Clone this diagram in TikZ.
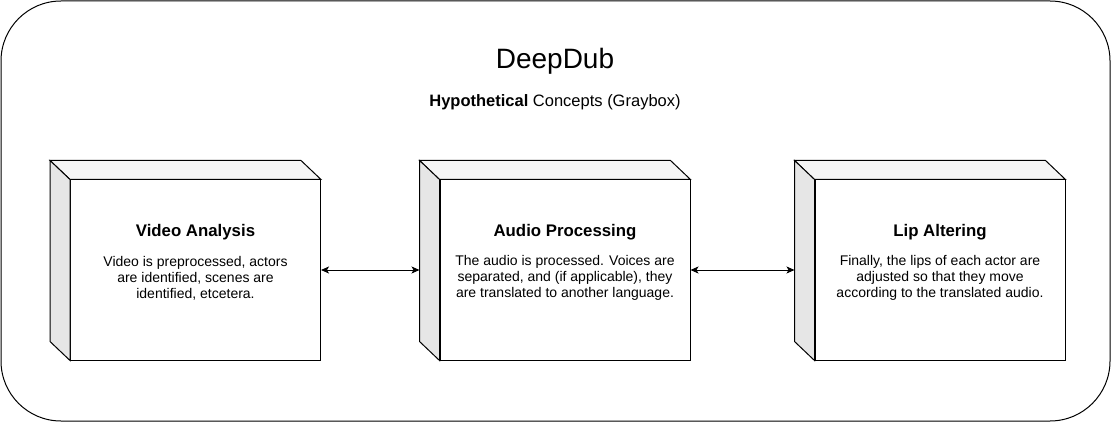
\documentclass[tikz,border=0pt]{standalone}
\usepackage{fontspec}
\setmainfont{Liberation Sans}
\usetikzlibrary{arrows.meta}
\definecolor{topgray}{HTML}{F5F5F5}
\definecolor{sidegray}{HTML}{E6E6E6}
\begin{document}
\begin{tikzpicture}[x=1pt,y=-1pt,line width=1pt,
    face/.style={draw,fill=white,minimum width=250pt,minimum height=180pt,inner sep=0pt},
    heading/.style={font=\fontsize{16.8}{20}\selectfont\bfseries},
    body/.style={font=\fontsize{14}{16}\selectfont,align=center},
    link/.style={{Stealth[length=8pt,width=7pt,inset=2pt]}-{Stealth[length=8pt,width=7pt,inset=2pt]}}]
    \useasboundingbox (0,0) rectangle (1111,422);
    \node[draw,rounded corners=60pt,minimum width=1109pt,minimum height=420pt] (frame) at (555.5,211) {};
    \node[font=\fontsize{28}{33}\selectfont] (title) at (555,61) {DeepDub};
    \node[font=\fontsize{16.5}{20}\selectfont] (subtitle) at (555,102) {\textbf{Hypothetical} Concepts (Graybox)};
    \node[face] (va) at (195.5,270) {};
    \node[face] (ap) at (565,270) {};
    \node[face] (la) at (940,270) {};
    \foreach \b in {va,ap,la} {
        \filldraw[fill=topgray] (\b.north west) -- (\b.north east) -- ++(-20,-19) -- ([shift={(-20,-19)}]\b.north west) -- cycle;
        \filldraw[fill=sidegray] (\b.north west) -- ([shift={(-20,-19)}]\b.north west) -- ([shift={(-20,-19)}]\b.south west) -- (\b.south west) -- cycle;
    }
    \node[heading] (va head) at ([yshift=38pt]va.center) {Video Analysis};
    \node[body] (va text) at ([yshift=-8pt]va.center) {Video is preprocessed, actors\\are identified, scenes are\\identified, etcetera.};
    \node[heading] (ap head) at ([yshift=38pt]ap.center) {Audio Processing};
    \node[body] (ap text) at ([yshift=-8pt]ap.center) {The audio is processed. Voices are\\separated, and (if applicable), they\\are translated to another language.};
    \node[heading] (la head) at ([yshift=38pt]la.center) {Lip Altering};
    \node[body] (la text) at ([yshift=-8pt]la.center) {Finally, the lips of each actor are\\adjusted so that they move\\according to the translated audio.};
    \coordinate (ap back) at ([xshift=-20pt]ap.west);
    \coordinate (la back) at ([xshift=-20pt]la.west);
    \draw[link] (va.east) -- (ap back);
    \draw[link] (ap.east) -- (la back);
\end{tikzpicture}
\end{document}
